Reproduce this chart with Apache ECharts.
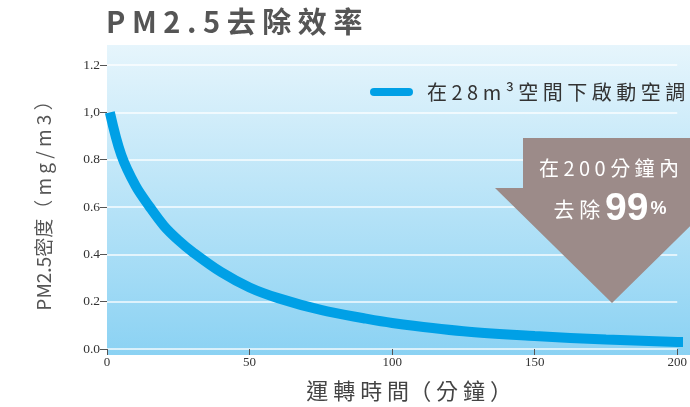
<!DOCTYPE html>
<html><head><meta charset="utf-8">
<script src="https://cdn.jsdelivr.net/npm/echarts@6/dist/echarts.min.js"></script>
<style>html,body{margin:0;padding:0;background:#fff}#c{width:690px;height:407px}</style>
</head><body><div id="c"></div>
<script>
const titleText = 'P M 2 . 5 去 除 效 率';
const seriesName = '在28m³空間下啟動空調';
const xAxisName = '運 轉 時 間（ 分 鐘 ）';
const yAxisName = 'PM2.5密度（ m g / m 3 ）';
const yTickLabels = ['0.0', '0.2', '0.4', '0.6', '0.8', '1,0', '1.2'];
const timeMin = [1, 5, 10, 15, 20, 25, 30, 40, 50, 60, 75, 90, 100, 125, 150, 175, 200, 204];
const pm25 = [1.0, 0.82, 0.69, 0.6, 0.52, 0.46, 0.41, 0.325, 0.26, 0.215, 0.165, 0.13, 0.11, 0.075, 0.055, 0.04, 0.03, 0.029];
const calloutLine1 = '在 2 0 0 分 鐘 內';
const calloutPrefix = '去 除 ';
const calloutValue = '99';
const calloutUnit = '%';

const CJK = '"Noto Sans CJK TC", "Noto Sans", sans-serif';
const SERIF = '"Liberation Serif", "DejaVu Serif", serif';
const spaced = s => s.split('').join(' ');

const chart = echarts.init(document.getElementById('c'));
const bgGrad = new echarts.graphic.LinearGradient(0, 45, 0, 355, [
  { offset: 0, color: '#e6f5fc' },
  { offset: 1, color: '#8bd2f3' }
], true);

chart.setOption({
  animation: false,
  backgroundColor: '#ffffff',
  title: {
    text: titleText, left: 106, top: 7, padding: 0,
    textStyle: { fontFamily: CJK, fontSize: 29, fontWeight: 'bold', color: '#555555' }
  },
  legend: {
    left: 370, top: 82, padding: 0,
    itemWidth: 43, itemHeight: 8,
    icon: 'path://M4,0H39A4,4,0,0,1,39,8H4A4,4,0,0,1,4,0Z',
    formatter: name => spaced(name),
    textStyle: { fontFamily: CJK, fontSize: 20, color: '#333333', padding: [0, 0, 0, 9] }
  },
  grid: { left: 107, right: 10, top: 65, bottom: 52 },
  xAxis: {
    type: 'value', min: 0, max: 200, interval: 50, offset: 2,
    axisLine: { show: false },
    axisTick: { show: true, length: 6, lineStyle: { color: '#555555', width: 1 } },
    axisLabel: { margin: 5, fontFamily: SERIF, fontSize: 13, color: '#333333' },
    splitLine: { show: false },
    name: xAxisName, nameLocation: 'middle', nameGap: 29,
    nameTextStyle: { fontFamily: CJK, fontSize: 22, color: '#444444', padding: [0, 0, 0, 34] }
  },
  yAxis: {
    type: 'value', min: 0, max: 1.2, interval: 0.2, offset: 4,
    axisLine: { show: false },
    axisTick: { show: true, length: 7, lineStyle: { color: '#555555', width: 1 } },
    axisLabel: {
      margin: 3, fontFamily: SERIF, fontSize: 13.5, color: '#333333',
      formatter: v => yTickLabels[Math.round(v / 0.2)]
    },
    splitLine: { show: true, lineStyle: { color: 'rgba(255,255,255,0.9)', width: 1.5 } },
    name: yAxisName, nameLocation: 'middle', nameGap: 50, nameRotate: 90,
    nameTextStyle: { fontFamily: CJK, fontSize: 19, color: '#555555', padding: [0, 0, 0, 12] }
  },
  series: [{
    name: seriesName, type: 'line', smooth: 0.35, symbol: 'none', clip: false, z: 3,
    lineStyle: { width: 10, color: '#00a0e6', cap: 'butt' },
    itemStyle: { color: '#00a0e6' },
    data: timeMin.map((t, i) => [t, pm25[i]])
  }],
  graphic: [
    { type: 'rect', z: -10, silent: true,
      shape: { x: 107, y: 45, width: 583, height: 310 },
      style: { fill: bgGrad } },
    { type: 'polygon', z: 10, silent: true,
      shape: { points: [[523, 138], [701, 138], [701, 188], [729, 188], [612, 303], [495, 188], [523, 188]] },
      style: { fill: '#9c8b89' } },
    { type: 'text', z: 11, silent: true, x: 609, y: 168,
      style: { text: calloutLine1, fill: '#ffffff', font: '20px ' + CJK, align: 'center', verticalAlign: 'middle' } },
    { type: 'text', z: 11, silent: true, x: 610, y: 209,
      style: {
        text: '{a|' + calloutPrefix + '}{b|' + calloutValue + '}{c|' + calloutUnit + '}',
        align: 'center', verticalAlign: 'middle',
        rich: {
          a: { fontFamily: CJK, fontSize: 21, fill: '#ffffff', color: '#ffffff' },
          b: { fontFamily: '"Liberation Sans", Arial, sans-serif', fontSize: 39, fontWeight: 'bold', fill: '#ffffff', color: '#ffffff' },
          c: { fontFamily: '"Liberation Sans", Arial, sans-serif', fontSize: 18, fontWeight: 'bold', fill: '#ffffff', color: '#ffffff', padding: [0, 0, 0, 2] }
        }
      } }
  ]
});
</script>
</body></html>
